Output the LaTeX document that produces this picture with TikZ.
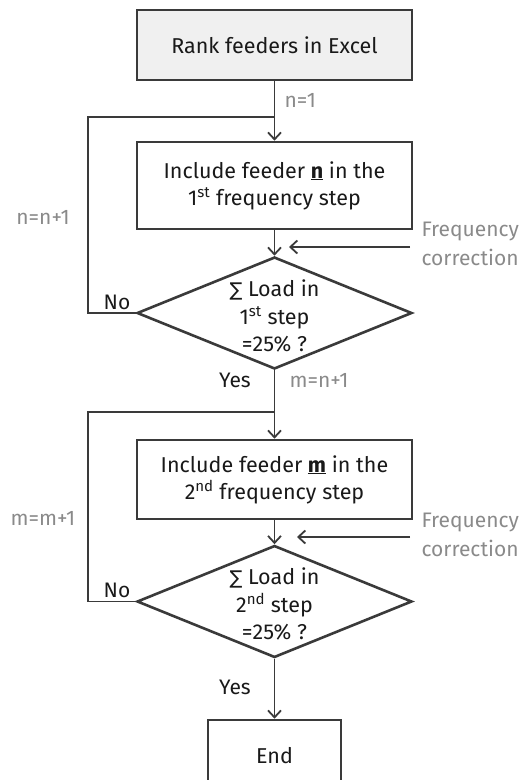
\documentclass[tikz,border=0pt]{standalone}
\usepackage{fontspec}
\setmainfont{Fira Sans}
\newfontfamily\symfont{DejaVu Sans}
\usetikzlibrary{arrows.meta,shapes.geometric}
\definecolor{lineC}{HTML}{3A3A3A}
\definecolor{lblC}{HTML}{8A8A8A}
\definecolor{fillC}{HTML}{F0F0F0}
\begin{document}
\begin{tikzpicture}[x=1pt,y=-1pt,
  box/.style={draw=lineC,line width=2.6pt,minimum width=275pt,align=center,font=\fontsize{21.5}{27}\selectfont,text=black!90},
  dia/.style={draw=lineC,line width=2.6pt,diamond,aspect=2.45,minimum width=275pt,minimum height=112pt,inner sep=0pt},
  diatext/.style={align=center,font=\fontsize{21.5}{27.5}\selectfont,text=black!90,inner sep=0pt},
  conn/.style={draw=lineC,line width=1.8pt},
  arr/.style={conn,-{Straight Barb[length=7pt,width=13pt,line width=1.8pt]}},
  lbl/.style={font=\fontsize{21}{25}\selectfont,text=black!90},
  glbl/.style={font=\fontsize{21}{25}\selectfont,text=lblC,align=left}
]
\useasboundingbox (0,0) rectangle (523,780);
\node[box,fill=fillC,minimum height=70pt] (rank) at (274.5,45) {Rank feeders in Excel};
\node[box,minimum height=87pt] (inc1) at (274.5,185.5) {Include feeder \underline{\textbf{n}} in the\\1\textsuperscript{st} frequency step};
\node[dia] (d1) at (274.5,313) {};
\node[diatext] (d1t) at (274.5,316) {{\symfont\fontsize{19}{25}\selectfont∑} Load in\\1\textsuperscript{st} step\\=25\% ?};
\node[box,minimum height=79pt] (inc2) at (274.5,479.5) {Include feeder \underline{\textbf{m}} in the\\2\textsuperscript{nd} frequency step};
\node[dia] (d2) at (274.5,601.5) {};
\node[diatext] (d2t) at (274.5,604) {{\symfont\fontsize{19}{25}\selectfont∑} Load in\\2\textsuperscript{nd} step\\=25\% ?};
\node[box,minimum width=133pt,minimum height=72pt] (end) at (274.5,756) {End};

\coordinate (j1) at (274.5,117);
\coordinate (l1) at (88,117);
\coordinate (j2) at (274.5,412);
\coordinate (l2) at (88,412);
\coordinate (fc1s) at (410,247);
\coordinate (fc1e) at (289,247);
\coordinate (fc2s) at (410,537);
\coordinate (fc2e) at (297,537);

\draw[conn] (rank.south) -- (j1);
\draw[arr] (j1) -- (inc1.north);
\draw[arr] (inc1.south) -- (d1.north);
\draw[conn] (d1.west) -- (88,313) -- (l1) -- (j1);
\draw[conn] (d1.south) -- (j2);
\draw[arr] (j2) -- (inc2.north);
\draw[arr] (inc2.south) -- (d2.north);
\draw[conn] (d2.west) -- (88,601.5) -- (l2) -- (j2);
\draw[arr] (d2.south) -- (end.north);
\draw[arr] (fc1s) -- (fc1e);
\draw[arr] (fc2s) -- (fc2e);

\node[glbl,anchor=west] (n1) at (281,100) {n=1};
\node[glbl] (nn1) at (43,217) {n=n+1};
\node[lbl] (no1) at (117,302) {No};
\node[lbl] (yes1) at (235,380) {Yes};
\node[glbl,anchor=west] (mn1) at (286,380) {m=n+1};
\node[glbl] (mm1) at (43,518) {m=m+1};
\node[lbl] (no2) at (117,590) {No};
\node[lbl] (yes2) at (235,687) {Yes};
\node[glbl,anchor=west] (fq1) at (418,231) {Frequency};
\node[glbl,anchor=west] (cr1) at (418,257) {correction};
\node[glbl,anchor=west] (fq2) at (418,522) {Frequency};
\node[glbl,anchor=west] (cr2) at (418,548) {correction};
\end{tikzpicture}
\end{document}
